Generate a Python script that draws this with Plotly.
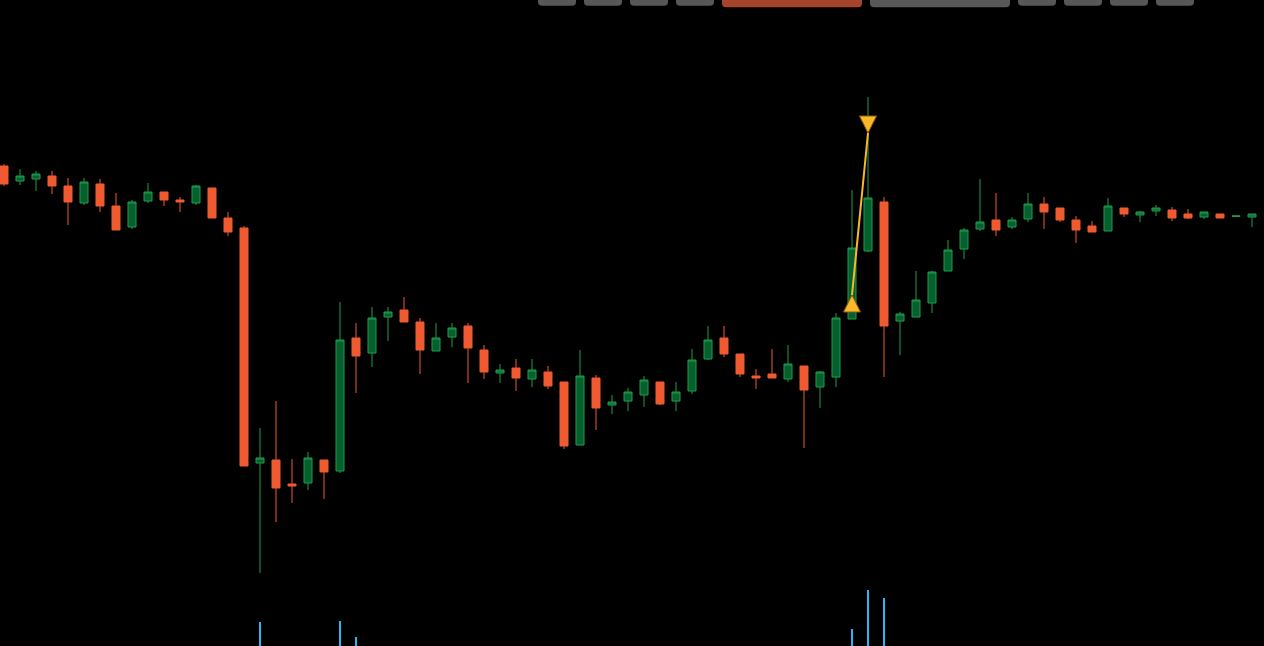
import plotly.graph_objects as go

# ---- data ----
idx = list(range(79))
open_ = [480, 465, 467, 470, 460, 443, 462, 440, 419, 445, 454, 446, 443, 458, 428, 418,
         183, 186, 162, 163, 186, 175, 308, 293, 329, 336, 324, 295, 309, 320, 296, 273,
         278, 267, 274, 264, 201, 268, 241, 245, 251, 264, 245, 255, 287, 308, 292, 270,
         272, 267, 280, 259, 269, 327, 395, 444, 325, 329, 343, 375, 397, 417, 426, 419,
         427, 442, 438, 426, 420, 415, 438, 431, 435, 436, 432, 429, 432, 429.6, 429]
high = [482, 477, 475, 475, 468, 468, 467, 453, 446, 463, 454, 449, 461, 458, 434, 420,
        218, 245, 187, 194, 186, 344, 323, 339, 339, 349, 328, 323, 323, 323, 301, 282,
        287, 287, 280, 264, 296, 271, 251, 258, 270, 264, 264, 297, 320, 320, 292, 277,
        297, 301, 280, 275, 333, 456, 549, 449, 334, 375, 375, 406, 418, 467, 453, 429,
        453, 449, 438, 430, 425, 448, 438, 435, 441, 439, 437, 434, 432, 430, 432]
low = [460, 461, 455, 452, 421, 441, 434, 416, 417, 443, 440, 434, 441, 428, 410, 180,
       73, 124, 143, 156, 147, 173, 253, 279, 305, 324, 272, 295, 299, 263, 267, 263,
       255, 259, 257, 197, 201, 216, 232, 235, 239, 241, 235, 252, 286, 289, 269, 257,
       268, 264, 198, 238, 259, 327, 394, 269, 291, 329, 333, 375, 387, 415, 410, 417,
       424, 417, 424, 403, 414, 415, 429, 424, 430, 425, 427, 427, 428, 429.6, 419]
close = [462, 470, 472, 460, 444, 464, 440, 416, 444, 454, 446, 444, 460, 428, 414, 180,
         188, 158, 160, 188, 174, 306, 290, 328, 334, 324, 296, 308, 318, 298, 274, 276,
         268, 276, 260, 200, 270, 238, 244, 254, 266, 242, 254, 286, 306, 292, 272, 268,
         268, 282, 256, 274, 328, 398, 448, 320, 332, 346, 374, 396, 416, 424, 416, 426,
         442, 434, 426, 416, 414, 440, 432, 434, 438, 428, 428, 434, 428, 430, 432]
volume = [0] * 79
volume[16] = 24
volume[21] = 25
volume[22] = 9
volume[53] = 17
volume[54] = 56
volume[55] = 48

signal_x = [53, 54]
signal_y = [351, 513]

# ---- styling ----
UP_LINE = "#1f9e4a"
UP_FILL = "#075e2e"
DOWN = "#f05a30"
VOL = "#29b6f6"
SIG = "#fbb829"

fig = go.Figure()
fig.add_trace(go.Candlestick(
    x=idx, open=open_, high=high, low=low, close=close,
    increasing=dict(line=dict(color=UP_LINE, width=1), fillcolor=UP_FILL),
    decreasing=dict(line=dict(color=DOWN, width=1), fillcolor=DOWN),
    whiskerwidth=0, showlegend=False, hoverinfo="skip",
))
fig.add_trace(go.Bar(
    x=idx, y=volume, yaxis="y2", width=0.09,
    marker=dict(color=VOL, line=dict(width=0)), showlegend=False, hoverinfo="skip",
))
fig.add_trace(go.Scatter(
    x=signal_x, y=signal_y, mode="lines+markers",
    line=dict(color=SIG, width=2),
    marker=dict(symbol=["arrow-up", "arrow-down"], size=17, color=SIG,
                line=dict(color="#8a5a10", width=1)),
    showlegend=False, hoverinfo="skip",
))

# top button strip (cut off at top edge)
W, H = 1264, 646
buttons = [(538, 576, 5.7, "#575757"), (584, 622, 5.7, "#575757"),
           (630, 668, 5.7, "#575757"), (676, 714, 5.7, "#575757"),
           (722, 862, 7.3, "#a5442a"), (870, 1010, 7.3, "#585858"),
           (1018, 1056, 5.7, "#575757"), (1064, 1102, 5.7, "#575757"),
           (1110, 1148, 5.7, "#575757"), (1156, 1194, 5.7, "#575757")]
shapes = []
r = 4
for x0p, x1p, hp, col in buttons:
    x0, x1 = x0p / W, x1p / W
    yb = 1 - hp / H
    yt = 1.05
    rx, ry = r / W, r / H
    path = (f"M {x0},{yt} L {x0},{yb + ry} Q {x0},{yb} {x0 + rx},{yb} "
            f"L {x1 - rx},{yb} Q {x1},{yb} {x1},{yb + ry} L {x1},{yt} Z")
    shapes.append(dict(type="path", xref="paper", yref="paper", path=path,
                       fillcolor=col, line=dict(width=0), layer="above"))

fig.update_layout(
    width=W, height=H,
    margin=dict(l=0, r=0, t=0, b=0),
    paper_bgcolor="black", plot_bgcolor="black",
    boxgap=0.5, boxgroupgap=0,
    xaxis=dict(range=[-0.25, 78.75], visible=False, rangeslider=dict(visible=False),
               fixedrange=True),
    yaxis=dict(range=[0, 646], visible=False, fixedrange=True),
    yaxis2=dict(range=[0, 646], overlaying="y", visible=False, fixedrange=True),
    bargap=0,
    shapes=shapes,
    showlegend=False,
    hovermode=False,
)

fig.write_html("out.html", config={"displayModeBar": False},
               post_script="document.body.style.margin='0';document.body.style.background='black';")
